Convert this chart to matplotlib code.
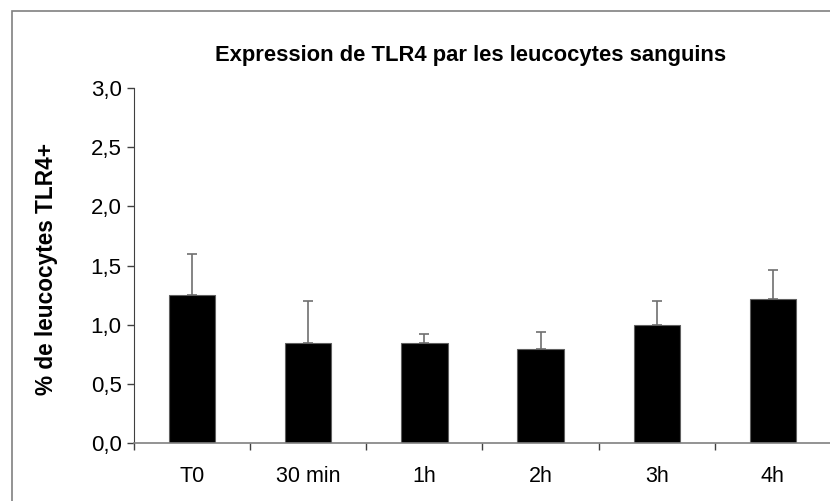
import numpy as np
import matplotlib
matplotlib.use("Agg")
import matplotlib.pyplot as plt
from matplotlib.patches import Rectangle

categories = ["T0", "30 min", "1h", "2h", "3h", "4h"]
means = [1.25, 0.85, 0.85, 0.80, 1.00, 1.22]
errors = [0.35, 0.35, 0.07, 0.14, 0.20, 0.24]
yticks = [0.0, 0.5, 1.0, 1.5, 2.0, 2.5, 3.0]

plt.rcParams['font.family'] = ['Liberation Sans', 'DejaVu Sans']

W, H = 830, 501
fig = plt.figure(figsize=(W / 100, H / 100), dpi=100)
ax = fig.add_axes([134 / W, 1 - 443.3 / H, 697 / W, (443.3 - 88) / H])

x = np.arange(len(categories))
ax.bar(x, means, width=0.4, color="black", edgecolor="#606060", linewidth=0.8, zorder=2)
ax.errorbar(x, means, yerr=[np.zeros(len(errors)), errors], fmt="none",
            ecolor="#707070", elinewidth=1.2, capsize=3.8, capthick=1.2, zorder=1)

ax.set_xlim(-0.5, len(categories) - 0.5)
ax.set_ylim(0, 3.0)
ax.set_yticks(yticks)
ax.set_yticklabels([f"{v:.1f}".replace(".", ",") for v in yticks], fontsize=16)

ax.set_xticks(x)
ax.set_xticklabels(categories, fontsize=15.5)
ax.tick_params(axis="x", which="major", length=0, pad=16)
ax.set_xticks(np.arange(len(categories) + 1) - 0.5, minor=True)
ax.tick_params(axis="x", which="minor", length=5, color="#404040", width=1)
ax.tick_params(axis="y", length=5, color="#404040", width=1, pad=4)

for s in ["top", "right"]:
    ax.spines[s].set_visible(False)
ax.spines["left"].set_color("#404040")
ax.spines["bottom"].set_color("#808080")
ax.spines["bottom"].set_linewidth(1.2)

ax.set_ylabel("% de leucocytes TLR4+", fontsize=16.3, fontweight="bold")
ax.yaxis.set_label_coords(-76 / 697, 0.49)
fig.text(471 / W, 1 - 56 / H, "Expression de TLR4 par les leucocytes sanguins",
         ha="center", va="center", fontsize=15.8, fontweight="bold")

fig.patches.append(Rectangle((12 / W, -0.1), 1.2, 1 - 11 / H + 0.1,
                             transform=fig.transFigure, fill=False,
                             edgecolor="#808080", linewidth=1.2))

fig.savefig("out.png", dpi=100)
